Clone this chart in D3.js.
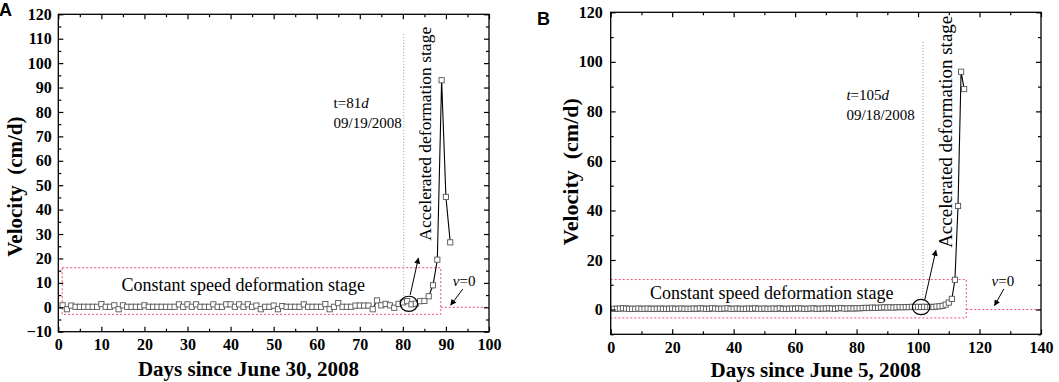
<!DOCTYPE html>
<html>
<head>
<meta charset="utf-8">
<script src="https://cdn.jsdelivr.net/npm/d3@7"></script>
<style>
  body { margin: 0; background: #fff; }
  svg { display: block; }
  text { font-family: 'Liberation Serif', 'Times New Roman', serif; }
</style>
</head>
<body>
<div id="chart"></div>
<script>
// ---- Data (velocity in cm/d, one value per day, starting at day 1) ----
const velocityA = [
  0.8, -0.8, 0.7, 0.2, 0.2, 0.2, 0.2, 0.2, 0.2, 1.3,
  0.2, 0.2, 0.8, -0.8, 0.8, 0.2, 0.2, 0.2, 0.2, 0.8,
  0.2, 0.2, 0.2, 0.2, 0.2, 0.2, 0.2, 1.2, 0.2, 1.2,
  0.2, 1.2, 0.2, 0.2, 0.2, 1.2, 0.2, 0.2, 1.2, 1.2,
  0.2, 1.2, 0.2, 1.2, 0.2, 0.7, -0.8, 0.2, 0.2, 0.7,
  -0.8, 0.5, 0.2, 0.2, 0.2, 0.2, 1.2, 0.2, 0.2, 0.2,
  0.2, 1.3, -0.8, 0.2, 1.7, 0.2, 0.2, 0.2, 0.7, 0.7,
  0.7, 0.7, -0.8, 2.8, 0.8, 1.4, 0.8, -0.2, 1.4, 2.0,
  2.5, 1.2, 1.5, 2.5, 2.6, 4.5, 9.0, 19.5, 93.0, 45.2,
  26.6
];

const velocityB = [
  0.3, 0.3, 0.4, 0.5, 0.4, 0.3, 0.3, 0.3, 0.4, 0.3,
  0.3, 0.4, 0.3, 0.3, 0.3, 0.4, 0.3, 0.3, 0.3, 0.4,
  0.3, 0.3, 0.4, 0.3, 0.3, 0.3, 0.4, 0.3, 0.5, 0.4,
  0.3, 0.3, 0.5, 0.4, 0.3, 0.3, 0.4, 0.5, 0.3, 0.3,
  0.4, 0.3, 0.3, 0.3, 0.4, 0.3, 0.5, 0.3, 0.3, 0.4,
  0.3, 0.3, 0.4, 0.3, 0.5, 0.3, 0.3, 0.3, 0.4, 0.3,
  0.5, 0.4, 0.3, 0.3, 0.4, 0.5, 0.3, 0.3, 0.4, 0.4,
  0.5, 0.4, 0.3, 0.5, 0.6, 0.4, 0.4, 0.5, 0.4, 0.5,
  0.5, 0.6, 0.7, 0.6, 0.8, 0.7, 0.7, 0.8, 0.9, 0.8,
  0.9, 0.8, 0.9, 1.0, 0.9, 1.0, 1.0, 1.1, 1.0, 1.1,
  1.0, 1.1, 1.0, 1.1, 1.0, 1.2, 1.3, 1.5, 2.0, 2.8,
  4.3, 12.0, 41.8, 96.0, 89.0
];

// Axis ticks
const xTicksA = [0, 10, 20, 30, 40, 50, 60, 70, 80, 90, 100];
const yTicksA = [-10, 0, 10, 20, 30, 40, 50, 60, 70, 80, 90, 100, 110, 120];
const xTicksB = [0, 20, 40, 60, 80, 100, 120, 140];
const yTicksB = [0, 20, 40, 60, 80, 100, 120];

const xTitleA = 'Days since June 30, 2008';
const xTitleB = 'Days since June 5, 2008';
const yTitle = 'Velocity\u00a0\u00a0(cm/d)';

const width = 1059;
const height = 382;

const svg = d3.select('#chart')
  .append('svg')
  .attr('width', width)
  .attr('height', height);

svg.append('rect')
  .attr('width', width)
  .attr('height', height)
  .attr('fill', '#fff');

// Arrowhead marker shared by both panels
svg.append('defs')
  .append('marker')
  .attr('id', 'arrow')
  .attr('viewBox', '0 0 10 10')
  .attr('refX', 9)
  .attr('refY', 5)
  .attr('markerWidth', 7)
  .attr('markerHeight', 6)
  .attr('markerUnits', 'userSpaceOnUse')
  .attr('orient', 'auto')
  .append('path')
  .attr('d', 'M0,0 L10,5 L0,10 Z')
  .attr('fill', '#000');

/**
 * Draw one velocity panel
 */
function drawPanel(p) {
  const x = d3.scaleLinear().domain(p.xDomain).range([p.left, p.right]);
  const y = d3.scaleLinear().domain(p.yDomain).range([p.bottom, p.top]);
  const g = svg.append('g');

  const points = p.values.map((v, i) => ({ day: i + 1, v }));

  // Red dashed boxes (stage region and v=0 line)
  g.append('rect')
    .attr('x', x(p.box[0]))
    .attr('y', y(p.box[3]))
    .attr('width', x(p.box[1]) - x(p.box[0]))
    .attr('height', y(p.box[2]) - y(p.box[3]))
    .attr('fill', 'none')
    .attr('stroke', '#f0506e')
    .attr('stroke-width', 1)
    .attr('stroke-dasharray', '2,2');

  g.append('line')
    .attr('x1', x(p.box[1]))
    .attr('x2', p.right)
    .attr('y1', y(0))
    .attr('y2', y(0))
    .attr('stroke', '#f0506e')
    .attr('stroke-width', 1)
    .attr('stroke-dasharray', '2,2');

  // Dotted vertical line at the onset of acceleration
  g.append('line')
    .attr('x1', x(p.vline.x))
    .attr('x2', x(p.vline.x))
    .attr('y1', y(p.vline.top))
    .attr('y2', y(0))
    .attr('stroke', '#999')
    .attr('stroke-width', 1)
    .attr('stroke-dasharray', '1,2');

  // Series line + square markers
  g.append('path')
    .datum(points)
    .attr('fill', 'none')
    .attr('stroke', '#000')
    .attr('stroke-width', 1.1)
    .attr('d', d3.line().x(d => x(d.day)).y(d => y(d.v)));

  g.selectAll('rect.pt')
    .data(points)
    .join('rect')
    .attr('class', 'pt')
    .attr('x', d => x(d.day) - 2.6)
    .attr('y', d => y(d.v) - 2.6)
    .attr('width', 5.2)
    .attr('height', 5.2)
    .attr('fill', '#fff')
    .attr('stroke', '#555')
    .attr('stroke-width', 0.9);

  // Ellipse round the onset point and arrow to the label
  g.append('ellipse')
    .attr('cx', x(p.ellipse.x))
    .attr('cy', y(p.ellipse.y))
    .attr('rx', 8.7)
    .attr('ry', 7.6)
    .attr('fill', 'none')
    .attr('stroke', '#000')
    .attr('stroke-width', 1.2);

  [p.arrow1, p.arrow2].forEach(a => {
    g.append('line')
      .attr('x1', x(a[0]))
      .attr('y1', y(a[1]))
      .attr('x2', x(a[2]))
      .attr('y2', y(a[3]))
      .attr('stroke', '#000')
      .attr('stroke-width', 1)
      .attr('marker-end', 'url(#arrow)');
  });

  // Frame
  g.append('rect')
    .attr('x', p.left)
    .attr('y', p.top)
    .attr('width', p.right - p.left)
    .attr('height', p.bottom - p.top)
    .attr('fill', 'none')
    .attr('stroke', '#000')
    .attr('stroke-width', 1.3);

  // Axes: inward ticks on all four sides, labels bottom and left only
  const styleAxis = sel => {
    sel.select('.domain').remove();
    sel.selectAll('line').attr('stroke', '#000').attr('stroke-width', 1.2);
    sel.selectAll('text')
      .attr('fill', '#000')
      .style('font-family', "'Liberation Serif', serif")
      .style('font-weight', 'bold')
      .style('font-size', '16px');
  };

  const axes = [
    [d3.axisBottom(x).tickValues(p.xTicks).tickSize(-5).tickPadding(p.xPad).tickFormat(d3.format('d')), `translate(0,${p.bottom})`],
    [d3.axisBottom(x).tickValues(p.xMinor).tickSize(-3).tickFormat(''), `translate(0,${p.bottom})`],
    [d3.axisTop(x).tickValues(p.xTicks).tickSize(-5).tickFormat(''), `translate(0,${p.top})`],
    [d3.axisTop(x).tickValues(p.xMinor).tickSize(-3).tickFormat(''), `translate(0,${p.top})`],
    [d3.axisLeft(y).tickValues(p.yTicks).tickSize(-5).tickPadding(p.yPad).tickFormat(d3.format('d')), `translate(${p.left},0)`],
    [d3.axisLeft(y).tickValues(p.yMinor).tickSize(-3).tickFormat(''), `translate(${p.left},0)`],
    [d3.axisRight(y).tickValues(p.yTicks).tickSize(-5).tickFormat(''), `translate(${p.right},0)`],
    [d3.axisRight(y).tickValues(p.yMinor).tickSize(-3).tickFormat(''), `translate(${p.right},0)`]
  ];
  axes.forEach(([axis, tr]) => {
    g.append('g').attr('transform', tr).call(axis).call(styleAxis);
  });

  // Axis titles
  g.append('text')
    .attr('x', p.xTitlePos[0])
    .attr('y', p.xTitlePos[1])
    .attr('text-anchor', 'middle')
    .attr('font-weight', 'bold')
    .attr('font-size', '21px')
    .text(p.xTitle);

  g.append('text')
    .attr('transform', `translate(${p.yTitlePos[0]},${p.yTitlePos[1]}) rotate(-90)`)
    .attr('text-anchor', 'middle')
    .attr('font-weight', 'bold')
    .attr('font-size', p.yTitleSize)
    .text(yTitle);

  // Panel letter
  g.append('text')
    .attr('x', p.letterPos[0])
    .attr('y', p.letterPos[1])
    .style('font-family', "'Liberation Sans', Arial, sans-serif")
    .attr('font-weight', 'bold')
    .attr('font-size', '18px')
    .text(p.letter);

  // Annotations
  const tLabel = g.append('text')
    .attr('x', x(p.tText.x))
    .attr('y', y(p.tText.y))
    .attr('font-size', '15px');
  p.tText.parts.forEach(([s, it]) => {
    tLabel.append('tspan').attr('font-style', it ? 'italic' : 'normal').text(s);
  });
  g.append('text')
    .attr('x', x(p.tText.x))
    .attr('y', y(p.tText.y) + 19.5)
    .attr('font-size', '15px')
    .text(p.tText.date);

  g.append('text')
    .attr('transform', `translate(${x(p.accel.x)},${y(p.accel.y)}) rotate(-90)`)
    .attr('font-size', p.accel.size)
    .text('Accelerated deformation stage');

  g.append('text')
    .attr('x', x(p.constText.x))
    .attr('y', y(p.constText.y))
    .attr('font-size', '18px')
    .text('Constant speed deformation stage');

  const vLabel = g.append('text')
    .attr('x', x(p.vText.x))
    .attr('y', y(p.vText.y))
    .attr('font-size', '15px');
  vLabel.append('tspan').attr('font-style', 'italic').text('v');
  vLabel.append('tspan').text('=0');
}

drawPanel({
  letter: 'A', letterPos: [-1, 16],
  left: 58.3, right: 489, top: 14.3, bottom: 331.7,
  xDomain: [0, 100], yDomain: [-10, 120],
  xTicks: xTicksA, yTicks: yTicksA,
  xMinor: [5, 15, 25, 35, 45, 55, 65, 75, 85, 95],
  yMinor: [-5, 5, 15, 25, 35, 45, 55, 65, 75, 85, 95, 105, 115],
  xPad: 6.5, yPad: 6.5,
  values: velocityA,
  xTitle: xTitleA, xTitlePos: [248.5, 376],
  yTitlePos: [22, 186.7], yTitleSize: '21px',
  box: [0.9, 88.8, -2.9, 16.2],
  vline: { x: 80.2, top: 112 },
  ellipse: { x: 81.4, y: 1.4 },
  arrow1: [81.7, 5.0, 83.6, 20.1],
  arrow2: [93.9, 7.4, 91.1, 0.9],
  tText: { x: 63.9, y: 81.6, parts: [['t=81', false], ['d', true]], date: '09/19/2008' },
  accel: { x: 86.5, y: 27.3, size: '17.5px' },
  constText: { x: 14.7, y: 6.7 },
  vText: { x: 91.6, y: 8.7 }
});

drawPanel({
  letter: 'B', letterPos: [537, 25],
  left: 610.7, right: 1041, top: 12.3, bottom: 334.3,
  xDomain: [0, 140], yDomain: [-10, 120],
  xTicks: xTicksB, yTicks: yTicksB,
  xMinor: [10, 30, 50, 70, 90, 110, 130],
  yMinor: [-10, 10, 30, 50, 70, 90, 110],
  xPad: 7, yPad: 8,
  values: velocityB,
  xTitle: xTitleB, xTitlePos: [815.8, 377],
  yTitlePos: [578, 171.7], yTitleSize: '22px',
  box: [0, 115.7, -3.4, 12.1],
  vline: { x: 101.6, top: 108 },
  ellipse: { x: 101, y: 1.0 },
  arrow1: [102.2, 4.0, 105.8, 23.9],
  arrow2: [127.9, 8.3, 124.9, 1.6],
  tText: { x: 76.7, y: 84.5, parts: [['t', true], ['=105', false], ['d', true]], date: '09/18/2008' },
  accel: { x: 111, y: 24.9, size: '19px' },
  constText: { x: 12.8, y: 4.4 },
  vText: { x: 123.9, y: 9.4 }
});
</script>
</body>
</html>
